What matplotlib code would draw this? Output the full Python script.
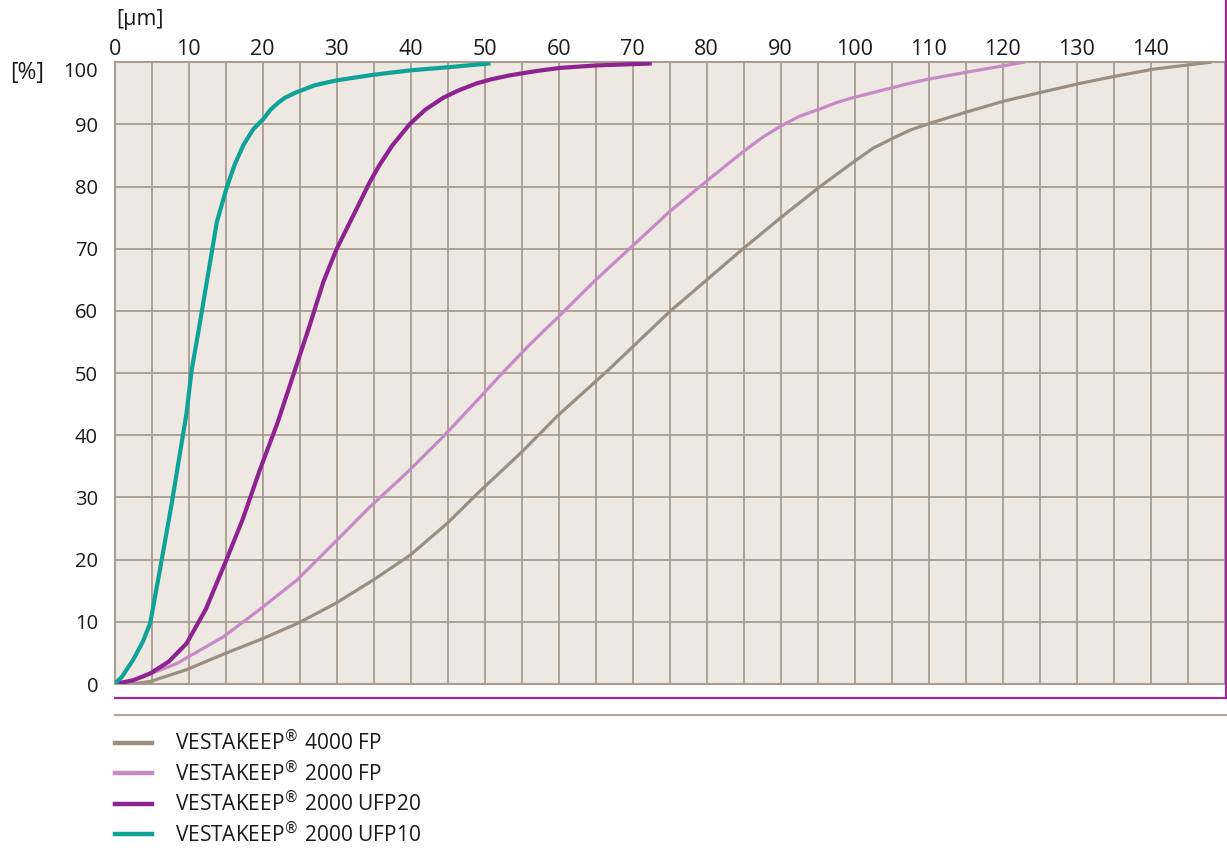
# -*- coding: utf-8 -*-
"""
Courbes granulometriques VESTAKEEP (distribution cumulee)
"""

import numpy as np
import matplotlib
matplotlib.use("Agg")
import matplotlib.pyplot as plt
from matplotlib.lines import Line2D

plt.rcParams['font.family'] = ['Open Sans', 'DejaVu Sans']

#%% Donnees

# VESTAKEEP 4000 FP
x_4000fp = [0, 3, 4.8, 9.7, 14.9, 19.8, 24.8, 29.9, 34.9, 39.9, 44.9, 49.6, 55, 59.9,
            66.7, 75, 84.9, 90.1, 95.3, 100, 102.5, 105.2, 107.5, 110.2, 115.1, 120.3,
            125.3, 130.4, 135.4, 140.4, 148]
y_4000fp = [0, 0.1, 0.4, 2.3, 4.9, 7.2, 9.8, 13.0, 16.7, 20.7, 25.8, 31.3, 37.3, 43.2,
            50.5, 59.9, 70.0, 75.1, 80.0, 84.1, 86.2, 87.8, 89.1, 90.2, 92.0, 93.8,
            95.2, 96.6, 97.8, 98.9, 100]

# VESTAKEEP 2000 FP
x_2000fp = [0, 2, 3.9, 8.4, 14.7, 19.6, 24.6, 29.5, 34.5, 39.5, 44.4, 48.5, 52.3, 56,
            59.9, 65, 70.1, 75, 80, 84.9, 87.5, 90.1, 92.5, 95.3, 97.5, 99.4, 103.4,
            107, 110, 115.1, 122.8]
y_2000fp = [0, 0.4, 1.2, 3.3, 7.6, 12.0, 16.7, 22.5, 28.5, 34.0, 39.8, 45.0, 49.9, 54.5,
            59.0, 65.0, 70.6, 76.0, 80.9, 85.6, 87.9, 89.8, 91.3, 92.5, 93.5, 94.2, 95.4,
            96.5, 97.3, 98.4, 100]

# VESTAKEEP 2000 UFP20
x_ufp20 = [0, 2.5, 4.8, 7.3, 9.7, 12.3, 14.9, 17.3, 19.6, 22, 24.3, 26.3, 28.2, 30,
           32.3, 34.5, 35.8, 37.5, 39.9, 42, 44.4, 46.5, 48.9, 51, 53.4, 57, 60.2,
           65.1, 72.3]
y_ufp20 = [0, 0.6, 1.7, 3.6, 6.5, 12.0, 19.4, 26.5, 34.4, 42.0, 50.3, 57.5, 64.7, 70.0,
           75.5, 80.8, 83.5, 86.6, 90.1, 92.4, 94.3, 95.5, 96.6, 97.3, 97.9, 98.6, 99.1,
           99.5, 99.8]

# VESTAKEEP 2000 UFP10
x_ufp10 = [0, 1, 2.5, 3.8, 4.8, 6.1, 7.7, 8.8, 9.7, 10.4, 11.3, 12.9, 13.8, 15.1,
           16.2, 17.4, 18.7, 20.1, 21, 22, 23, 24.6, 25.5, 27, 30, 35, 39.9, 45, 50.5]
y_ufp10 = [0, 1.2, 3.9, 6.8, 9.8, 18.3, 29.0, 37.0, 43.5, 50.5, 56.6, 67.9, 74.3, 79.7,
           83.5, 86.7, 89.2, 90.9, 92.3, 93.4, 94.3, 95.2, 95.6, 96.3, 97.1, 98.0, 98.7,
           99.2, 99.8]

series_labels = ['VESTAKEEP$^{®}$ 4000 FP', 'VESTAKEEP$^{®}$ 2000 FP',
                 'VESTAKEEP$^{®}$ 2000 UFP20', 'VESTAKEEP$^{®}$ 2000 UFP10']
series_colors = ['#9C8F82', '#C68BC7', '#8E2290', '#0FA398']

x_ticks = np.arange(0, 151, 5)
x_tick_labels = [str(v) if (v % 10 == 0 and v < 150) else '' for v in x_ticks]
y_ticks = np.arange(0, 101, 10)
y_tick_labels = [str(v) for v in y_ticks]

#%% Figure
fig = plt.figure(figsize=(12.27, 8.52), dpi=100)
ax = fig.add_axes([114.7 / 1227, 1 - 684 / 852, 1110 / 1227, 621.7 / 852])

grid_color = '#A99D90'
ax.set_facecolor('#EDE8E2')

ax.plot(x_4000fp, y_4000fp, color=series_colors[0], lw=2.3, label=series_labels[0],
        solid_joinstyle='round', zorder=3)
ax.plot(x_2000fp, y_2000fp, color=series_colors[1], lw=2.3, label=series_labels[1],
        solid_joinstyle='round', zorder=3)
ax.plot(x_ufp20, y_ufp20, color=series_colors[2], lw=3.0, label=series_labels[2],
        solid_joinstyle='round', zorder=4)
ax.plot(x_ufp10, y_ufp10, color=series_colors[3], lw=3.0, label=series_labels[3],
        solid_joinstyle='round', zorder=5)

ax.set_xlim(0, 150)
ax.set_ylim(0, 100)
ax.set_xticks(x_ticks)
ax.set_xticklabels(x_tick_labels)
ax.set_yticks(y_ticks)
ax.set_yticklabels(y_tick_labels)
ax.xaxis.tick_top()
ax.tick_params(axis='x', length=0, pad=2, labelsize=15.5, labelcolor='#1A1A1A')
ax.tick_params(axis='y', length=0, pad=12, labelsize=14.5, labelcolor='#1A1A1A')
ax.get_yticklabels()[-1].set_va('top')
ax.grid(True, color=grid_color, lw=1.3, zorder=1)
ax.set_axisbelow(True)
for side in ['left', 'bottom', 'top']:
    ax.spines[side].set_color(grid_color)
    ax.spines[side].set_linewidth(1.5)
ax.spines['right'].set_visible(False)

# unites
fig.text(116 / 1227, 1 - 20 / 852, '[µm]', fontsize=15.5, ha='left', va='center',
         color='#1A1A1A')
fig.text(10 / 1227, 1 - 73 / 852, '[%]', fontsize=16.5, ha='left', va='center',
         color='#1A1A1A')

# cadre violet et filet gris
x0, x1 = 114.7 / 1227, 1225.5 / 1227
fig.add_artist(Line2D([x0, x1], [1 - 698 / 852] * 2, color='#9B2A98', lw=1.6,
                      transform=fig.transFigure))
fig.add_artist(Line2D([x1, x1], [1 - 698 / 852, 1.0], color='#9B2A98', lw=1.6,
                      transform=fig.transFigure))
fig.add_artist(Line2D([x0, x1], [1 - 715 / 852] * 2, color='#B3A89B', lw=1.6,
                      transform=fig.transFigure))

# legende
leg = fig.legend(loc='upper left', bbox_to_anchor=(115 / 1227, 1 - 729 / 852),
                 frameon=False, fontsize=15, handlelength=1.78, handletextpad=1.1,
                 labelspacing=0.22, borderaxespad=0, borderpad=0)
for h in leg.get_lines():
    h.set_linewidth(3.2)
for t in leg.get_texts():
    t.set_color('#1A1A1A')

fig.savefig('out.png', dpi=100)
